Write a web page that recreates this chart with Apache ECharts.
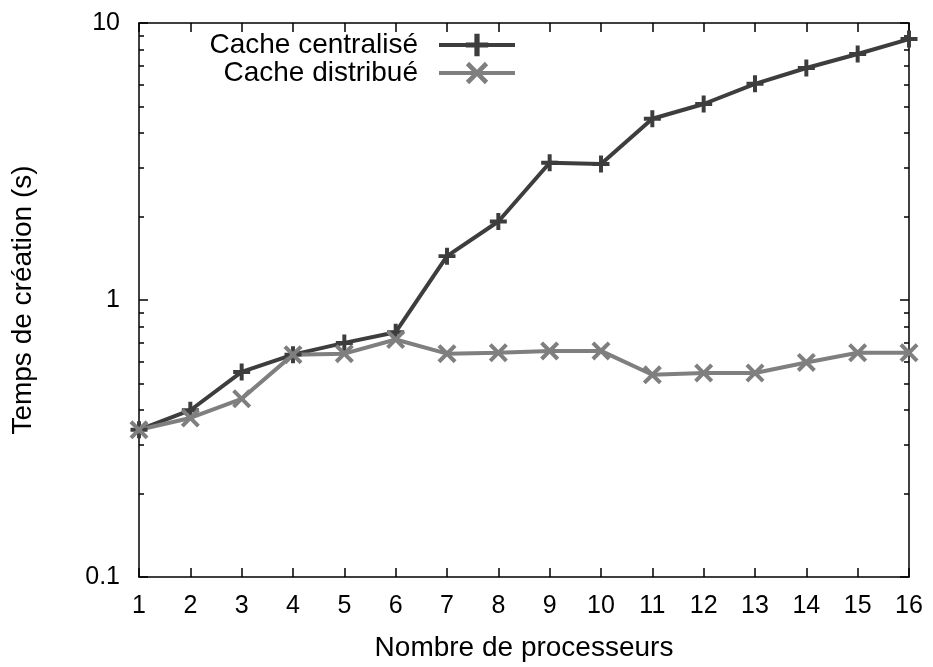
<!DOCTYPE html>
<html>
<head>
<meta charset="utf-8">
<script src="https://cdn.jsdelivr.net/npm/echarts@6/dist/echarts.min.js"></script>
<style>html,body{margin:0;padding:0;background:#fff}#c{width:933px;height:667px}</style>
</head>
<body>
<div id="c"></div>
<script>
var processors = [1,2,3,4,5,6,7,8,9,10,11,12,13,14,15,16];
var centralise = [0.34,0.40,0.55,0.635,0.70,0.765,1.44,1.92,3.13,3.10,4.51,5.10,6.03,6.88,7.73,8.75];
var distribue  = [0.34,0.375,0.44,0.635,0.64,0.72,0.64,0.645,0.655,0.655,0.537,0.545,0.545,0.595,0.645,0.645];
var yMajorTicks = [0.1,1,10];
var yMinorTicks = [0.2,0.3,0.4,0.5,0.6,0.7,0.8,0.9,2,3,4,5,6,7,8,9];
var nameCentral = 'Cache centralisé';
var nameDistrib = 'Cache distribué';

var FONT = 'Liberation Sans';
var plusPath = 'path://M-1.4,-6L1.4,-6L1.4,-1.4L6,-1.4L6,1.4L1.4,1.4L1.4,6L-1.4,6L-1.4,1.4L-6,1.4L-6,-1.4L-1.4,-1.4Z';
var d = 1.8;
var crossPath = 'path://M-6,' + (-6 + d) + 'L' + (-6 + d) + ',-6L0,' + (-d) + 'L' + (6 - d) + ',-6L6,' + (-6 + d) +
  'L' + d + ',0L6,' + (6 - d) + 'L' + (6 - d) + ',6L0,' + d + 'L' + (-6 + d) + ',6L-6,' + (6 - d) + 'L' + (-d) + ',0Z';

function pairs(xs, ys) { return xs.map(function (x, i) { return [x, ys[i]]; }); }

var axisLine = { show: true, lineStyle: { color: '#000', width: 1.5 } };
function yAxisDef(pos, ticks, len, showLine, showLabel) {
  return {
    type: 'log', logBase: 10, min: 0.1, max: 10, position: pos,
    axisLine: showLine ? axisLine : { show: false },
    axisTick: { show: true, inside: true, length: len, customValues: ticks, lineStyle: { color: '#000', width: 1.5 } },
    axisLabel: showLabel ? {
      show: true, customValues: yMajorTicks, margin: 19, color: '#000', fontSize: 25, fontFamily: FONT,
      formatter: function (v) { return String(v); }
    } : { show: false },
    splitLine: { show: false }, minorTick: { show: false }
  };
}

var legendText = { fontSize: 28, fontFamily: FONT, color: '#000', padding: [0, 16, 0, 0] };

var chart = echarts.init(document.getElementById('c'), null, { renderer: 'canvas' });
chart.setOption({
  animation: false,
  backgroundColor: '#fff',
  grid: { left: 139, right: 24, top: 23, bottom: 89 },
  legend: [
    { data: [nameCentral], right: 416, top: 31, padding: 0, align: 'right', itemWidth: 76, itemHeight: 28,
      lineStyle: { width: 4 }, textStyle: legendText },
    { data: [nameDistrib], right: 416, top: 59, padding: 0, align: 'right', itemWidth: 76, itemHeight: 28,
      lineStyle: { width: 4 }, textStyle: legendText }
  ],
  xAxis: [
    {
      type: 'value', min: 1, max: 16, interval: 1, position: 'bottom',
      name: 'Nombre de processeurs', nameLocation: 'middle', nameGap: 57,
      nameTextStyle: { fontSize: 28, fontFamily: FONT, color: '#000' },
      axisLine: axisLine,
      axisTick: { inside: true, length: 9, lineStyle: { color: '#000', width: 1.5 } },
      axisLabel: { margin: 17, color: '#000', fontSize: 25, fontFamily: FONT },
      splitLine: { show: false }
    },
    {
      type: 'value', min: 1, max: 16, interval: 1, position: 'top',
      axisLine: axisLine,
      axisTick: { inside: true, length: 9, lineStyle: { color: '#000', width: 1.5 } },
      axisLabel: { show: false }, splitLine: { show: false }
    }
  ],
  yAxis: [
    Object.assign(yAxisDef('left', yMajorTicks, 9, true, true), {
      name: 'Temps de création (s)', nameLocation: 'middle', nameGap: 102, nameRotate: 90,
      nameTextStyle: { fontSize: 28, fontFamily: FONT, color: '#000' }
    }),
    yAxisDef('left', yMinorTicks, 5, false, false),
    yAxisDef('right', yMajorTicks, 9, true, false),
    yAxisDef('right', yMinorTicks, 5, false, false)
  ],
  series: [
    {
      name: nameCentral, type: 'line', xAxisIndex: 0, yAxisIndex: 0,
      data: pairs(processors, centralise),
      symbol: plusPath, symbolSize: 17,
      lineStyle: { color: '#3d3d3d', width: 4 },
      itemStyle: { color: '#3d3d3d' }
    },
    {
      name: nameDistrib, type: 'line', xAxisIndex: 0, yAxisIndex: 0,
      data: pairs(processors, distribue),
      symbol: crossPath, symbolSize: 19,
      lineStyle: { color: '#7f7f7f', width: 4 },
      itemStyle: { color: '#7f7f7f' }
    }
  ]
});
</script>
</body>
</html>
